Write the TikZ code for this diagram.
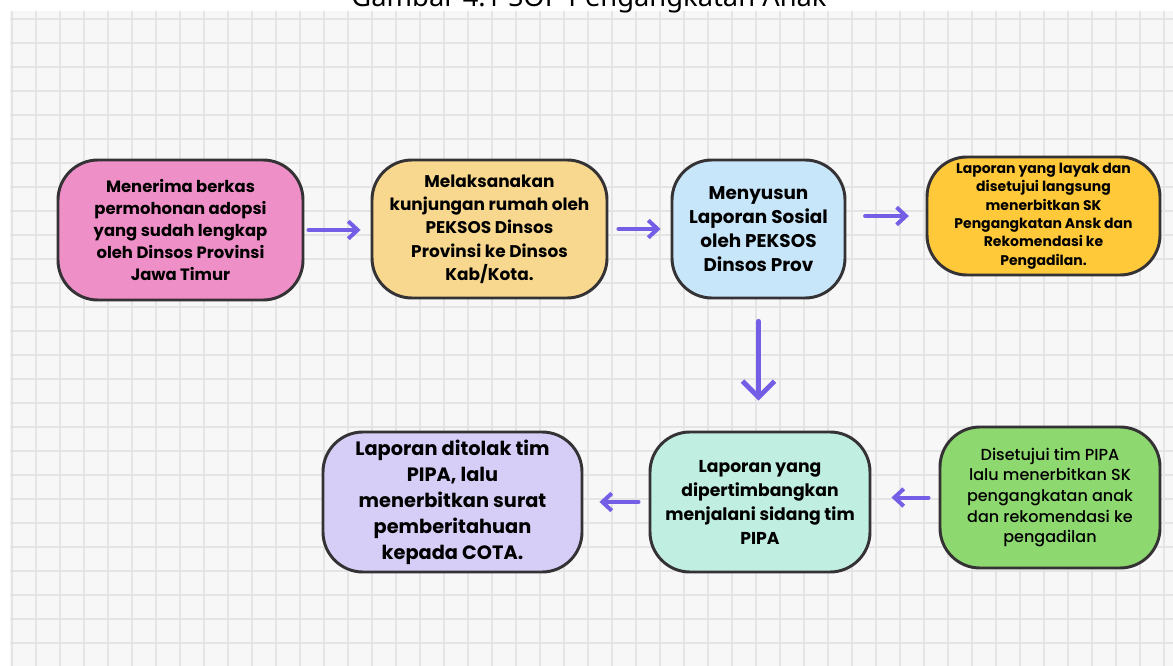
\documentclass[tikz,border=0pt]{standalone}
\usepackage{fontspec}
\setmainfont{Poppins}
\newfontfamily\titlefont{Noto Sans}
\newfontfamily\mediumfont{Poppins}[UprightFont=* Medium]
\usetikzlibrary{arrows.meta}

\definecolor{panelbg}{RGB}{247,247,247}
\definecolor{gridline}{RGB}{228,228,228}
\definecolor{boxline}{RGB}{52,50,52}
\definecolor{flowpurple}{RGB}{116,94,230}
\definecolor{pinkfill}{RGB}{238,143,200}
\definecolor{sandfill}{RGB}{248,216,142}
\definecolor{skyfill}{RGB}{200,230,250}
\definecolor{goldfill}{RGB}{255,201,58}
\definecolor{lilacfill}{RGB}{214,206,246}
\definecolor{mintfill}{RGB}{192,238,224}
\definecolor{leaffill}{RGB}{142,216,112}

\tikzset{
  stepbox/.style={draw=boxline, line width=2.2pt, rounded corners=30pt,
    align=center, inner sep=0pt},
  flow/.style={draw=flowpurple, line width=3pt, line cap=round,
    -{Straight Barb[length=7pt, width=13pt, line width=3pt]}},
  bigflow/.style={draw=flowpurple, line width=3.8pt, line cap=round,
    -{Straight Barb[length=12pt, width=24pt, line width=3.6pt]}},
}

\begin{document}
\begin{tikzpicture}[x=0.75pt, y=-0.75pt]
\useasboundingbox (0,0) rectangle (1173,666);
% background with grid
\fill[panelbg] (10,11) rectangle (1173,666);
\foreach \gx in {12,36,...,1172}
  \draw[gridline, line width=1pt] (\gx,11) -- (\gx,666);
\foreach \gy in {19,43,...,665}
  \draw[gridline, line width=1pt] (10,\gy) -- (1173,\gy);
\node[anchor=base, font=\titlefont\fontsize{20.5}{24}\selectfont] (title) at (589,6.5) {Gambar 4.1 SOP Pengangkatan Anak};

% upper row
\node[stepbox, fill=pinkfill, minimum width=183.75pt, minimum height=105pt,
  font=\bfseries\fontsize{12.3}{16.5}\selectfont] at (180.5,230) (terima)
  {Menerima berkas\\permohonan adopsi\\yang sudah lengkap\\oleh Dinsos Provinsi\\Jawa Timur};
\node[stepbox, fill=sandfill, minimum width=176.25pt, minimum height=103.5pt,
  font=\bfseries\fontsize{12.7}{17.5}\selectfont] at (489.5,229) (kunjungan)
  {Melaksanakan\\kunjungan rumah oleh\\PEKSOS Dinsos\\Provinsi ke Dinsos\\Kab/Kota.};
\node[stepbox, fill=skyfill, minimum width=129.75pt, minimum height=103.5pt,
  font=\bfseries\fontsize{13.8}{18}\selectfont] at (758.5,229) (susun)
  {Menyusun\\Laporan Sosial\\oleh PEKSOS\\Dinsos Prov};
\node[stepbox, fill=goldfill, minimum width=174.75pt, minimum height=88.5pt,
  font=\bfseries\fontsize{10.5}{13.75}\selectfont] at (1043.5,216) (layak)
  {Laporan yang layak dan\\disetujui langsung\\menerbitkan SK\\Pengangkatan Ansk dan\\Rekomendasi ke\\Pengadilan.};

% lower row
\node[stepbox, fill=lilacfill, minimum width=194.25pt, minimum height=105pt,
  font=\bfseries\fontsize{14.5}{19.5}\selectfont] at (452.5,502) (tolak)
  {Laporan ditolak tim\\PIPA, lalu\\menerbitkan surat\\pemberitahuan\\kepada COTA.};
\node[stepbox, fill=mintfill, minimum width=165pt, minimum height=105pt,
  font=\bfseries\fontsize{12.9}{18}\selectfont] at (760,502) (sidang)
  {Laporan yang\\dipertimbangkan\\menjalani sidang tim\\PIPA};
\node[stepbox, fill=leaffill, minimum width=165pt, minimum height=105.75pt,
  font=\mediumfont\fontsize{12}{15.4}\selectfont] at (1050,497.5) (setuju)
  {Disetujui tim PIPA\\lalu menerbitkan SK\\pengangkatan anak\\dan rekomendasi ke\\pengadilan};

% arrows
\draw[flow, shorten <=3pt, shorten >=7.5pt] (terima.east) -- (kunjungan.west |- terima.east);
\draw[flow, shorten <=7.5pt, shorten >=7.5pt] (kunjungan.east) -- (susun.west);
\draw[flow, shorten <=14pt, shorten >=12.5pt] (susun.east |- layak.west) -- (layak.west);
\draw[bigflow, shorten <=16.5pt, shorten >=22.5pt] (susun.south) -- (susun.south |- sidang.north);
\draw[flow, shorten <=7.5pt, shorten >=15pt] (setuju.west) -- (sidang.east |- setuju.west);
\draw[flow, shorten <=7.5pt, shorten >=12pt] (sidang.west) -- (tolak.east);
\end{tikzpicture}
\end{document}
